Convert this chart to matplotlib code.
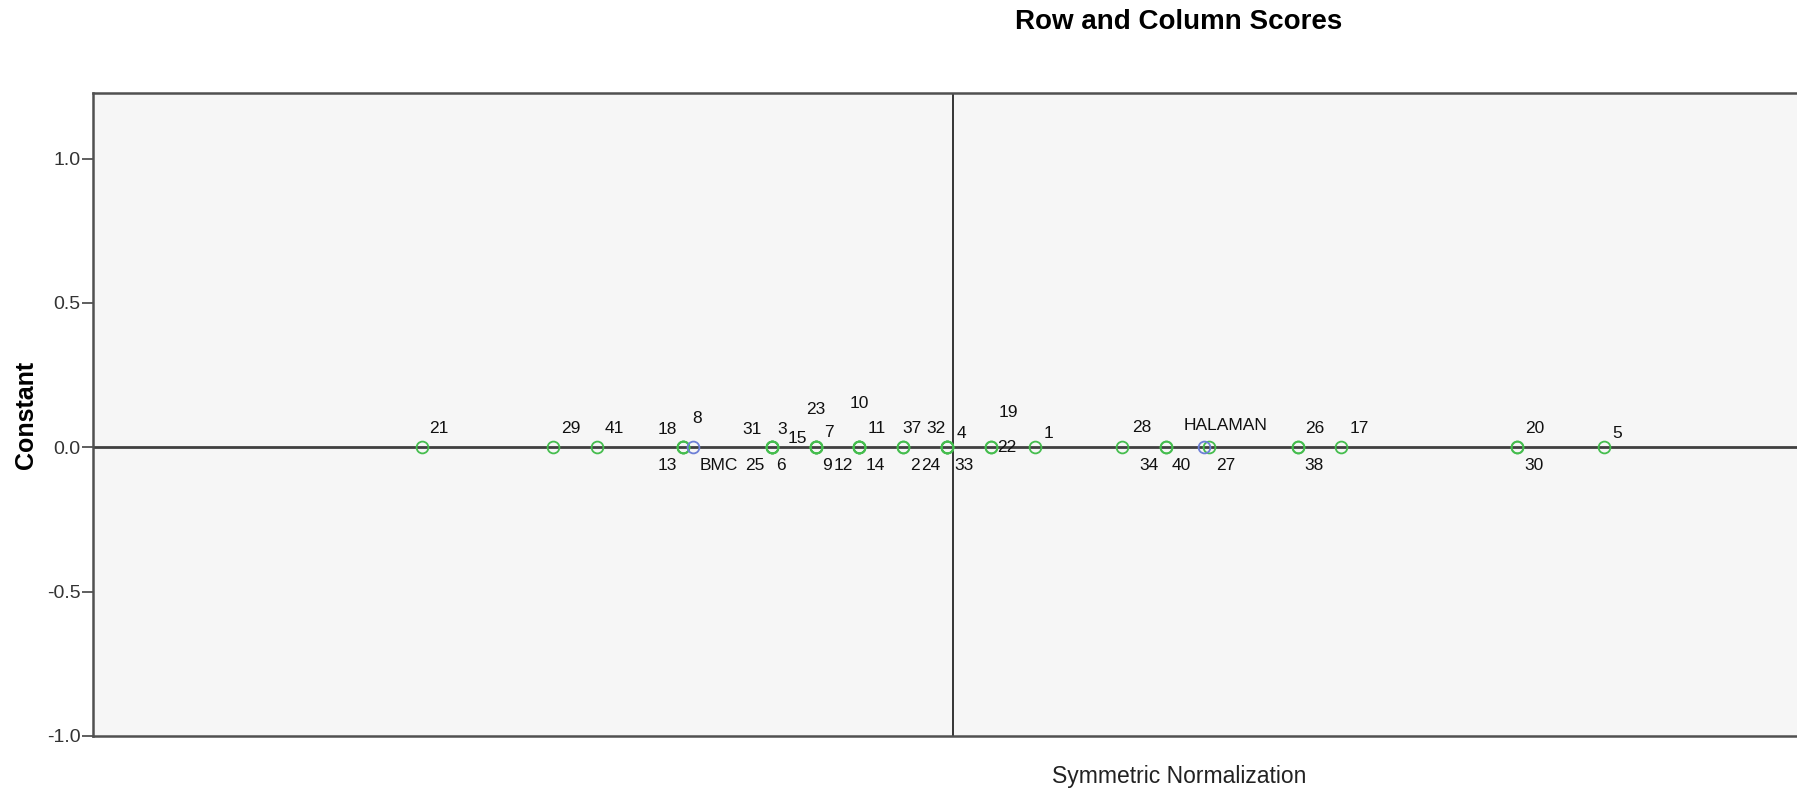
import matplotlib.pyplot as plt

# row points (all sit on the y = 0 line)
row_labels = ['21', '29', '41',
              '18', '13', '8',
              '31', '3', '25', '6',
              '15', '7', '23', '9',
              '10', '11', '14', '12',
              '37', '2',
              '32', '4', '24', '33',
              '19', '22',
              '1', '28',
              '34', '40',
              '27',
              '26', '38',
              '17',
              '20', '30',
              '5']
row_x = [-1.236, -0.931, -0.828,
         -0.627, -0.627, -0.627,
         -0.420, -0.420, -0.420, -0.420,
         -0.319, -0.319, -0.319, -0.319,
         -0.218, -0.218, -0.218, -0.218,
         -0.116, -0.116,
         -0.015, -0.015, -0.015, -0.015,
         0.088, 0.088,
         0.191, 0.394,
         0.496, 0.496,
         0.596,
         0.802, 0.802,
         0.902,
         1.311, 1.311,
         1.515]

# column points
col_labels = ['BMC', 'HALAMAN']
col_x = [-0.604, 0.584]

y_ticks = [-1.0, -0.5, 0.0, 0.5, 1.0]

# label offsets from the marker, in pixels (dx, dy up)
offs = {
    '21': (17, 19), '29': (18, 19), '41': (17, 19),
    '18': (-16, 18), '13': (-16, -18), '8': (14, 29),
    '31': (-20, 18), '3': (10, 18), '25': (-18, -18), '6': (9, -18),
    '15': (-18, 9), '7': (13, 15), '23': (0, 38), '9': (11, -18),
    '10': (0, 44), '11': (17, 19), '14': (16, -18), '12': (-16, -18),
    '37': (9, 19), '2': (12, -18),
    '32': (-11, 19), '4': (15, 14), '24': (-16, -18), '33': (17, -18),
    '19': (18, 35), '22': (16, 0),
    '1': (13, 14), '28': (19, 20),
    '34': (-17, -18), '40': (15, -18),
    '27': (16, -18),
    '26': (17, 19), '38': (16, -18),
    '17': (18, 19),
    '20': (18, 19), '30': (17, -18),
    '5': (13, 14),
    'BMC': (26, -18), 'HALAMAN': (21, 22),
}

plt.rcParams['font.family'] = ['Liberation Sans', 'DejaVu Sans']

fig = plt.figure(figsize=(17.97, 7.93), dpi=100)
ax = fig.add_axes([93/1797, 57/793, 1720/1797, 643/793])
ax.set_facecolor('#f6f6f6')

ax.axhline(0, color='#404040', lw=2.0, zorder=1)
ax.axvline(0, color='black', lw=1.1, zorder=1)

ax.plot(row_x, [0]*len(row_x), 'o', ms=8.5, mfc='none', mec='#45bd4e', mew=1.3, zorder=3)
ax.plot(col_x, [0]*len(col_x), 'o', ms=8.5, mfc='none', mec='#6d7fd6', mew=1.3, zorder=3)

for lab, x in list(zip(row_labels, row_x)) + list(zip(col_labels, col_x)):
    dx, dy = offs[lab]
    ax.annotate(lab, (x, 0), xytext=(dx, dy), textcoords='offset pixels',
                ha='center', va='center', fontsize=12.5, color='#111111')

ax.set_xlim(-2, 2)
ax.set_ylim(-1.0, 1.227)
ax.set_yticks(y_ticks)
ax.set_yticklabels(['%.1f' % v for v in y_ticks])
ax.set_xticks([])
ax.tick_params(axis='y', length=8, width=1.1, pad=1, labelsize=14, colors='#333333')

for s in ax.spines.values():
    s.set_color('#505050')
    s.set_linewidth(1.8)

fig.text(1179/1797, 1 - 22/793, 'Row and Column Scores', ha='center', va='center',
         fontsize=20, fontweight='bold')
fig.text(1179/1797, 1 - 776/793, 'Symmetric Normalization', ha='center', va='center',
         fontsize=16.5, color='#222222')
fig.text(26/1797, 1 - 415/793, 'Constant', ha='center', va='center', rotation=90,
         fontsize=18, fontweight='bold')

fig.savefig('out.png', dpi=100)
